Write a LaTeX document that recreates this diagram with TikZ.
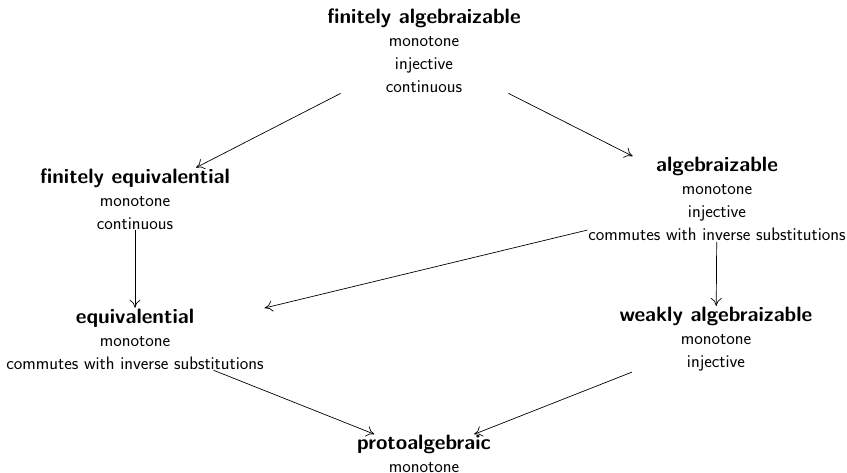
\documentclass[tikz,border=0pt]{standalone}
\usepackage{fontspec}
\usetikzlibrary{arrows.meta}
\tikzset{
  prop/.style={align=center, inner sep=0pt, outer sep=1pt,
    font=\sffamily\fontsize{18.1}{23}\selectfont},
  imp/.style={-{To[length=8pt,width=11pt]}, line width=0.7pt}
}
\newcommand{\ttl}[1]{{\bfseries\fontsize{20.8}{23}\selectfont #1}}
\begin{document}
\begin{tikzpicture}[x=1pt,y=-1pt]
\useasboundingbox (0,0) rectangle (847,472);
\node[prop] (fa) at (424,50.5) {\ttl{finitely algebraizable}\\ monotone\\ injective\\ continuous};
\node[prop] (fe) at (135,199) {\ttl{finitely equivalential}\\ monotone\\ continuous};
\node[prop] (al) at (717,199) {\ttl{algebraizable}\\ monotone\\ injective\\ commutes with inverse substitutions};
\node[prop] (eq) at (135,339) {\ttl{equivalential}\\ monotone\\ commutes with inverse substitutions};
\node[prop] (wa) at (716,339) {\ttl{weakly algebraizable}\\ monotone\\ injective};
\node[prop] (pa) at (424,454) {\ttl{protoalgebraic}\\ monotone};
\draw[imp] (fa) -- (fe);
\draw[imp] (fa) -- (al);
\draw[imp] (fe) -- (eq);
\draw[imp] (al) -- (eq);
\draw[imp] (al) -- (wa);
\draw[imp] (eq) -- (pa);
\draw[imp] (wa) -- (pa);
\end{tikzpicture}
\end{document}
